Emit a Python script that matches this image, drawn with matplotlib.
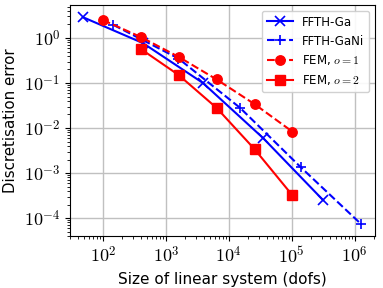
import matplotlib
matplotlib.use("Agg")
import matplotlib.pyplot as plt
from matplotlib.ticker import FuncFormatter
import numpy as np

plt.rcParams['mathtext.fontset'] = 'cm'
plt.rcParams['font.family'] = 'DejaVu Sans'

# FFTH-Ga
ga_dofs = [48, 432, 3888, 34992, 314928]
ga_err = [2.9, 0.77, 0.1, 0.006, 2.5e-4]
# FFTH-GaNi
gani_dofs = [147, 1587, 15123, 138675, 1255827]
gani_err = [1.95, 0.35, 0.028, 1.35e-3, 7.4e-5]
# FEM, o=1
fem1_dofs = [100, 400, 1600, 6400, 25600, 102400]
fem1_err = [2.5, 1.05, 0.38, 0.12, 0.034, 0.0083]
# FEM, o=2
fem2_dofs = [400, 1600, 6400, 25600, 102400]
fem2_err = [0.57, 0.15, 0.028, 0.0034, 3.2e-4]

fig, ax = plt.subplots(figsize=(3.83, 2.88), dpi=100)
fig.subplots_adjust(left=70/383, right=375/383, top=1-5/288, bottom=1-236/288)

ax.loglog(ga_dofs, ga_err, 'bx-', lw=1.5, ms=7, mew=1.2, label='FFTH-Ga')
ax.loglog(gani_dofs, gani_err, 'b+--', lw=1.5, ms=7, mew=1.2, label='FFTH-GaNi')
ax.loglog(fem1_dofs, fem1_err, 'ro--', lw=1.5, ms=6.8, label='FEM, $o=1$')
ax.loglog(fem2_dofs, fem2_err, 'rs-', lw=1.5, ms=6.5, label='FEM, $o=2$')

ax.set_xlim(30, 2.1e6)
ax.set_ylim(4e-5, 5.4)
ax.grid(True, which='major', color='#c0c0c0', lw=1)
ax.set_axisbelow(True)

pow10 = FuncFormatter(lambda v, p: r'$10^{%d}$' % int(round(np.log10(v))))
ax.xaxis.set_major_formatter(pow10)
ax.yaxis.set_major_formatter(pow10)
ax.tick_params(labelsize=13)

ax.set_xlabel('Size of linear system (dofs)', fontsize=11)
ax.set_ylabel('Discretisation error', fontsize=10.8)
ax.legend(loc='upper right', fontsize=8.5, framealpha=0.9, handlelength=2.2,
          borderaxespad=0.5)

plt.savefig('out.png', dpi=100)
